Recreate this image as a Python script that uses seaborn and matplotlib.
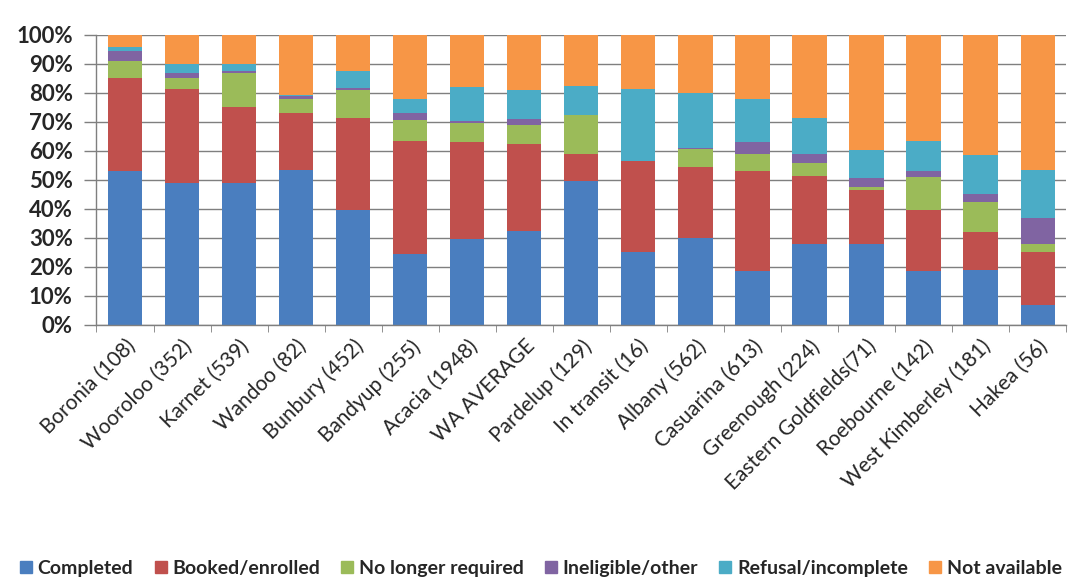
import numpy as np
import pandas as pd
import matplotlib
matplotlib.use("Agg")
import matplotlib.pyplot as plt
from matplotlib.lines import Line2D
from matplotlib.ticker import FixedLocator
import seaborn as sns

# данные (% по каждому учреждению)
sites = ["Boronia (108)", "Wooroloo (352)", "Karnet (539)", "Wandoo (82)",
         "Bunbury (452)", "Bandyup (255)", "Acacia (1948)", "WA AVERAGE",
         "Pardelup (129)", "In transit (16)", "Albany (562)", "Casuarina (613)",
         "Greenough (224)", "Eastern Goldfields(71)", "Roebourne (142)",
         "West Kimberley (181)", "Hakea (56)"]

completed = [53, 49, 49, 53.5, 39.5, 24.5, 29.5, 32.5, 49.5, 25, 30, 18.5, 28, 28, 18.5, 19, 7]
booked = [32, 32.5, 26, 19.5, 32, 39, 33.5, 30, 9.5, 31.5, 24.5, 34.5, 23.5, 18.5, 21, 13, 18]
no_longer = [6, 3.5, 12, 5, 9.5, 7, 6.5, 6.3, 13.5, 0, 6, 6, 4.5, 1.2, 11.5, 10.5, 3]
ineligible = [3.5, 2, 0.5, 1, 0.7, 2.5, 0.7, 2.3, 0, 0, 0.5, 4, 3, 3, 2, 2.5, 9]
refusal = [1.5, 3, 2.5, 0.3, 6, 5, 11.8, 10, 10, 25, 19, 15, 12.5, 9.5, 10.5, 13.5, 16.5]
not_avail = [4, 10, 10, 20.7, 12.3, 22, 18, 18.9, 17.5, 18.5, 20, 22, 28.5, 39.8, 36.5, 41.5, 46.5]

series = ["Completed", "Booked/enrolled", "No longer required",
          "Ineligible/other", "Refusal/incomplete", "Not available"]
colors = ["#4a7ebf", "#c0504d", "#9bbb59", "#8064a2", "#4bacc6", "#f79646"]

df = pd.DataFrame({"site": sites})
for name, vals in zip(series, [completed, booked, no_longer, ineligible, refusal, not_avail]):
    df[name] = vals
# накопленные суммы для наложения столбцов
cum = df[series].cumsum(axis=1)

sns.set_style("white")
plt.rcParams['font.family'] = ['Lato', 'DejaVu Sans']

fig = plt.figure(figsize=(10.78, 5.82), dpi=100)
ax = fig.add_axes([0.0895, 0.4416, 0.8995, 0.4984])

# рисуем от верхнего слоя к нижнему
for name, col in reversed(list(zip(series, colors))):
    sns.barplot(x=df["site"], y=cum[name], color=col, width=0.6,
                linewidth=0, saturation=1, ax=ax, order=sites)

ax.set_ylim(0, 100)
ax.set_xlim(-0.5, len(sites) - 0.5)
ax.set_yticks(np.arange(0, 101, 10))
ax.set_yticklabels([f"{v}%" for v in range(0, 101, 10)], fontsize=16, fontweight="bold")
ax.yaxis.grid(True, color="#7f7f7f", linewidth=1)
ax.set_axisbelow(True)
ax.tick_params(axis="y", length=9, color="#7f7f7f", width=1, pad=8, left=True)

ax.set_xticks(range(len(sites)))
ax.set_xticklabels(sites, rotation=45, ha="right", rotation_mode="anchor", fontsize=15)
ax.tick_params(axis="x", which="major", length=0, pad=8)
ax.xaxis.set_minor_locator(FixedLocator(np.arange(-0.5, len(sites), 1)))
ax.tick_params(axis="x", which="minor", length=5, color="#7f7f7f", bottom=True)

ax.set_xlabel("")
ax.set_ylabel("")
for s in ["top", "right"]:
    ax.spines[s].set_visible(False)
for s in ["left", "bottom"]:
    ax.spines[s].set_color("#7f7f7f")
    ax.spines[s].set_linewidth(1)

handles = [Line2D([0], [0], marker="s", linestyle="", markersize=8,
                  markerfacecolor=c, markeredgecolor=c) for c in colors]
fig.legend(handles, series, loc="center", bbox_to_anchor=(0.5, 0.024), ncol=6,
           frameon=False, handletextpad=0.1, columnspacing=0.9, handlelength=1.0,
           prop={"size": 14, "weight": "bold"})

fig.savefig("out.png", dpi=100, facecolor="white")
